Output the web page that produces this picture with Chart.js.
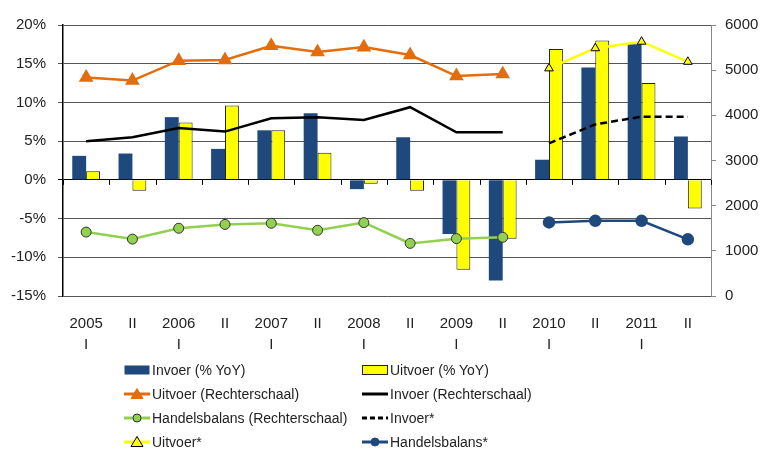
<!DOCTYPE html>
<html>
<head>
<meta charset="utf-8">
<script src="https://cdn.jsdelivr.net/npm/chart.js@4.4.1/dist/chart.umd.min.js"></script>
<style>
  body { margin: 0; background: #fff; }
  #wrap { position: relative; width: 763px; height: 450px; }
  #legend { position: absolute; left: 0; top: 358px; width: 763px; font-family: "Liberation Sans", Arial, sans-serif; font-size: 14px; color: #222; }
  .item { position: absolute; height: 24px; display: flex; align-items: center; white-space: nowrap; }
  .item svg { margin-right: 2px; }
</style>
</head>
<body>
<div id="wrap">
  <canvas id="chart" width="763" height="450"></canvas>
  <div id="legend"></div>
</div>
<script>
// categories
var labels = [["2005", "I"], "II", ["2006", "I"], "II", ["2007", "I"], "II", ["2008", "I"], "II",
              ["2009", "I"], "II", ["2010", "I"], "II", ["2011", "I"], "II"];

// bars, left axis (% YoY)
var invoerYoY  = [3.1, 3.4, 8.1, 4.0, 6.4, 8.6, -1.2, 5.5, -7.0, -13.0, 2.6, 14.5, 17.5, 5.6];
var uitvoerYoY = [1.1, -1.4, 7.4, 9.6, 6.4, 3.5, -0.5, -1.4, -11.6, -7.6, 16.9, 18.0, 12.5, -3.7];

// lines, right axis
var uitvoerRS = [4840, 4770, 5210, 5225, 5540, 5400, 5510, 5335, 4870, 4915, null, null, null, null];
var invoerRS  = [3425, 3515, 3720, 3640, 3935, 3955, 3895, 4180, 3625, 3625, null, null, null, null];
var balansRS  = [1415, 1260, 1500, 1585, 1610, 1455, 1625, 1165, 1270, 1300, null, null, null, null];
var invoerF   = [null, null, null, null, null, null, null, null, null, null, 3380, 3800, 3970, 3970];
var uitvoerF  = [null, null, null, null, null, null, null, null, null, null, 5040, 5485, 5630, 5185];
var balansF   = [null, null, null, null, null, null, null, null, null, null, 1630, 1665, 1665, 1255];

// tick labels
var leftTicks = [-15, -10, -5, 0, 5, 10, 15, 20];
var rightTicks = [0, 1000, 2000, 3000, 4000, 5000, 6000];

var FONT = "'Liberation Sans', Arial, sans-serif";
var blue = "#1F497D", yellow = "#FFFF00", orange = "#E46C0A", green = "#92D050";

//ticks on the zero line between categories
var zeroTicks = {
    id: "zeroTicks",
    afterDraw: function (chart) {
        var x = chart.scales.x, y = chart.scales.y, c = chart.ctx;
        var y0 = y.getPixelForValue(0);
        var step = (x.right - x.left) / labels.length;
        c.save();
        c.strokeStyle = "#000";
        c.lineWidth = 1;
        for (var i = 0; i <= labels.length; i++) {
            var px = Math.round(x.left + i * step) + 0.5;
            c.beginPath();
            c.moveTo(px, y0);
            c.lineTo(px, y0 + 5);
            c.stroke();
        }
        c.restore();
    }
};

var data = {
    labels: labels,
    datasets: [
        { type: "bar", label: "Invoer (% YoY)", data: invoerYoY, backgroundColor: blue, borderWidth: 0, yAxisID: "y", order: 2 },
        { type: "bar", label: "Uitvoer (% YoY)", data: uitvoerYoY, backgroundColor: yellow, borderColor: "#222", borderWidth: 1, yAxisID: "y", order: 2 },
        { type: "line", label: "Uitvoer (Rechterschaal)", data: uitvoerRS, borderColor: orange, backgroundColor: orange, borderWidth: 2.5,
          pointStyle: "triangle", pointRadius: 6, pointBorderColor: orange, yAxisID: "y1", order: 1 },
        { type: "line", label: "Invoer (Rechterschaal)", data: invoerRS, borderColor: "#000", borderWidth: 2.5, pointRadius: 0, yAxisID: "y1", order: 1 },
        { type: "line", label: "Handelsbalans (Rechterschaal)", data: balansRS, borderColor: green, backgroundColor: green, borderWidth: 2.5,
          pointStyle: "circle", pointRadius: 5, pointBorderColor: "#333", pointBorderWidth: 1, yAxisID: "y1", order: 1 },
        { type: "line", label: "Invoer*", data: invoerF, borderColor: "#000", borderWidth: 2.5, borderDash: [7, 4], pointRadius: 0, yAxisID: "y1", order: 1 },
        { type: "line", label: "Uitvoer*", data: uitvoerF, borderColor: yellow, backgroundColor: yellow, borderWidth: 2.5,
          pointStyle: "triangle", pointRadius: 5, pointBorderColor: "#000", pointBorderWidth: 1, yAxisID: "y1", order: 1 },
        { type: "line", label: "Handelsbalans*", data: balansF, borderColor: blue, backgroundColor: blue, borderWidth: 2.5,
          pointStyle: "circle", pointRadius: 5, pointBorderColor: blue, yAxisID: "y1", order: 1 }
    ]
};

var options = {
    responsive: false,
    animation: false,
    devicePixelRatio: 1,
    layout: { padding: { top: 25, bottom: 90, left: 0, right: 0 } },
    plugins: { legend: { display: false }, tooltip: { enabled: false } },
    datasets: { bar: { categoryPercentage: 0.6, barPercentage: 1.0 } },
    scales: {
        x: {
            grid: { display: false },
            border: { display: false },
            ticks: { color: "#222", font: { family: FONT, size: 15, lineHeight: 1.35 }, padding: 10, maxRotation: 0, autoSkip: false },
            afterFit: function (s) { s.height = 64; }
        },
        y: {
            position: "left",
            min: -15, max: 20,
            afterBuildTicks: function (s) { s.ticks = leftTicks.map(function (v) { return { value: v }; }); },
            ticks: { color: "#222", font: { family: FONT, size: 15 }, padding: 12, callback: function (v) { return v + "%"; } },
            grid: { color: function (c) { return c.tick && c.tick.value === 0 ? "#000" : "#555"; }, tickLength: 5, lineWidth: 1 },
            border: { color: "#000", width: 1.5 },
            afterFit: function (s) { s.width = 63; }
        },
        y1: {
            position: "right",
            min: 0, max: 6000,
            afterBuildTicks: function (s) { s.ticks = rightTicks.map(function (v) { return { value: v }; }); },
            ticks: { color: "#222", font: { family: FONT, size: 15 }, padding: 9, callback: function (v) { return String(v); } },
            grid: { drawOnChartArea: false, tickLength: 5, color: "#888" },
            border: { color: "#888", width: 1 },
            afterFit: function (s) { s.width = 52; }
        }
    }
};

var chart = new Chart(document.getElementById("chart"), {
    type: "bar",
    data: data,
    options: options,
    plugins: [zeroTicks]
});

//html legend in two columns, built from the datasets
function swatch(ds) {
    var s = '<svg width="26" height="14" viewBox="0 0 26 14">';
    if (ds.type === "bar") {
        s += '<rect x="0.5" y="2.5" width="25" height="9" fill="' + ds.backgroundColor + '"' +
             (ds.borderWidth ? ' stroke="#222" stroke-width="1"' : '') + '/>';
    } else {
        s += '<line x1="0" y1="7" x2="26" y2="7" stroke="' + ds.borderColor + '" stroke-width="3"' +
             (ds.borderDash ? ' stroke-dasharray="5,3"' : '') + '/>';
        if (ds.pointRadius && ds.pointStyle === "triangle") {
            s += '<polygon points="13,1.5 19,11.5 7,11.5" fill="' + ds.backgroundColor + '" stroke="' + ds.pointBorderColor + '" stroke-width="1"/>';
        } else if (ds.pointRadius) {
            s += '<circle cx="13" cy="7" r="4" fill="' + ds.backgroundColor + '" stroke="' + ds.pointBorderColor + '" stroke-width="1"/>';
        }
    }
    return s + '</svg>';
}

var legend = document.getElementById("legend");
var colX = [124, 362];
data.datasets.forEach(function (ds, i) {
    var el = document.createElement("div");
    el.className = "item";
    el.style.left = colX[i % 2] + "px";
    el.style.top = (Math.floor(i / 2) * 24) + "px";
    el.innerHTML = swatch(ds) + '<span>' + ds.label + '</span>';
    legend.appendChild(el);
});
</script>
</body>
</html>
